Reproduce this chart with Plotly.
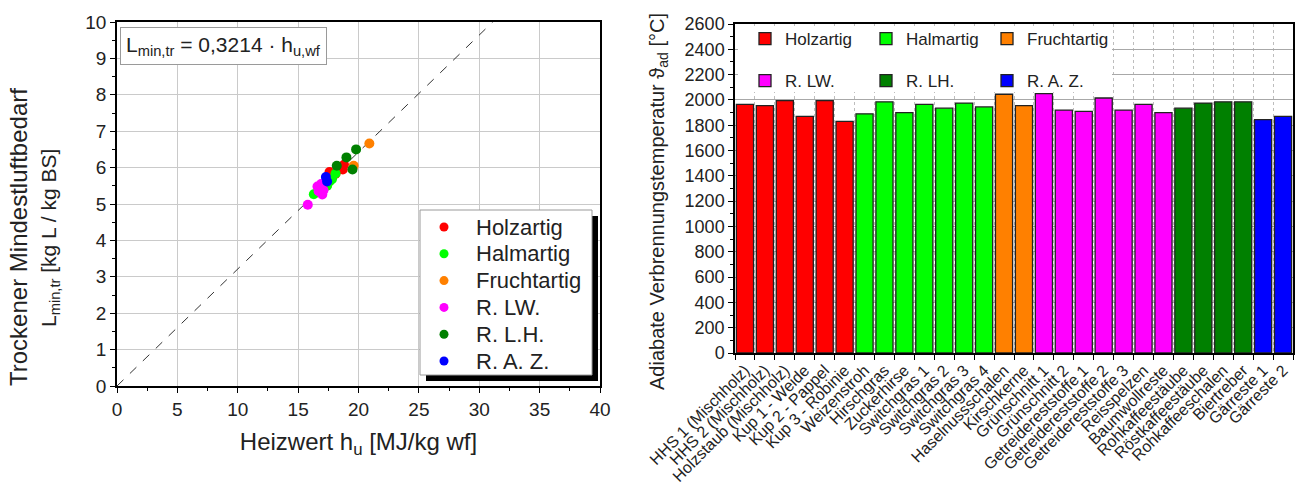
import plotly.graph_objects as go

W, H = 1298, 494

# ---------------- data: scatter (left) ----------------
groups_scatter = ["Holzartig", "Halmartig", "Fruchtartig", "R. LW.", "R. L.H.", "R. A. Z."]
holz_x = [17.6, 18.1, 18.5, 18.8, 18.7, 17.9]
holz_y = [5.88, 5.83, 5.97, 6.08, 5.95, 5.78]
halm_x = [16.3, 16.7, 17.2, 17.6, 17.8, 18.1, 17.4]
halm_y = [5.27, 5.40, 5.55, 5.62, 5.68, 5.84, 5.50]
frucht_x = [19.6, 20.9]
frucht_y = [6.05, 6.66]
rlw_x = [15.8, 16.7, 16.8, 16.9, 17.0, 17.1, 16.6]
rlw_y = [4.98, 5.35, 5.45, 5.55, 5.26, 5.38, 5.48]
rlh_x = [18.2, 19.0, 19.5, 19.8]
rlh_y = [6.05, 6.28, 5.95, 6.50]
raz_x = [17.3, 17.4]
raz_y = [5.74, 5.62]
fit_slope = 0.3214

# ---------------- data: bars (right) ----------------
holz_names = ["HHS 1 (Mischholz)", "HHS 2 (Mischholz)", "Holzstaub (Mischholz)",
              "Kup 1 - Weide", "Kup 2 - Pappel", "Kup 3 - Robinie"]
holz_temp = [1965, 1955, 1995, 1870, 1995, 1830]
halm_names = ["Weizenstroh", "Hirschgras", "Zuckerhirse", "Switchgras 1",
              "Switchgras 2", "Switchgras 3", "Switchgras 4"]
halm_temp = [1890, 1985, 1900, 1965, 1935, 1975, 1945]
frucht_names = ["Haselnussschalen", "Kirschkerne"]
frucht_temp = [2045, 1955]
rlw_names = ["Grünschnitt 1", "Grünschnitt 2", "Getreidereststoffe 1",
             "Getreidereststoffe 2", "Getreidereststoffe 3", "Reisspelzen", "Baumwollreste"]
rlw_temp = [2050, 1920, 1910, 2015, 1920, 1965, 1900]
rlh_names = ["Rohkaffeestäube", "Röstkaffeestäube", "Rohkaffeeschalen", "Biertreber"]
rlh_temp = [1935, 1975, 1985, 1985]
raz_names = ["Gärreste 1", "Gärreste 2"]
raz_temp = [1845, 1870]
bar_groups = ["Holzartig", "Halmartig", "Fruchtartig", "R. LW.", "R. LH.", "R. A. Z."]

colors = ["#ff0000", "#00ff00", "#ff8000", "#ff00ff", "#008000", "#0000ff"]
FONT = "Arial, 'Liberation Sans', sans-serif"
TXT = "#222222"

def px_x(p):
    return p / W

def px_y(p):
    return 1 - p / H

fig = go.Figure()

# ---- left scatter ----
sc_data = [(holz_x, holz_y), (halm_x, halm_y), (frucht_x, frucht_y),
           (rlw_x, rlw_y), (rlh_x, rlh_y), (raz_x, raz_y)]
x_end = 10 / fit_slope
fig.add_trace(go.Scatter(x=[0, x_end], y=[0, fit_slope * x_end], mode="lines",
                         line=dict(color="#333333", width=1, dash="dash"),
                         showlegend=False, xaxis="x", yaxis="y", hoverinfo="skip"))
for name, (xs, ys), c in zip(groups_scatter, sc_data, colors):
    fig.add_trace(go.Scatter(x=xs, y=ys, mode="markers", name=name, showlegend=False,
                             marker=dict(color=c, size=10, line=dict(width=0)),
                             xaxis="x", yaxis="y"))

# ---- right bars ----
bar_data = [(holz_names, holz_temp), (halm_names, halm_temp), (frucht_names, frucht_temp),
            (rlw_names, rlw_temp), (rlh_names, rlh_temp), (raz_names, raz_temp)]
all_names = [n for names, _ in bar_data for n in names]
for i, (name, (names, temps), c) in enumerate(zip(bar_groups, bar_data, colors)):
    fig.add_trace(go.Bar(x=names, y=temps, name=name,
                         marker=dict(color=c, line=dict(color="#222222", width=1.3)),
                         xaxis="x2", yaxis="y2", legend="legend2" if i < 3 else "legend3"))

axis_common = dict(showline=True, linecolor="black", linewidth=1.5, mirror=True,
                   ticks="outside", ticklen=5, tickwidth=1.2, tickcolor="black",
                   zeroline=False, automargin=False)

fig.update_layout(
    width=W, height=H, margin=dict(l=0, r=0, t=0, b=0, autoexpand=False),
    paper_bgcolor="white", plot_bgcolor="white",
    font=dict(family=FONT, color=TXT),
    barmode="group", bargap=0.14,
    xaxis=dict(domain=[px_x(117), px_x(600)], range=[0, 40], dtick=5,
               showgrid=True, gridcolor="#cacaca", gridwidth=1.2,
               minor=dict(ticks="outside", ticklen=3, dtick=2.5, tickcolor="black", showgrid=False),
               tickfont=dict(size=19),
               title=dict(text="Heizwert h<sub>u</sub> [MJ/kg wf]", font=dict(size=24), standoff=15),
               anchor="y", **axis_common),
    yaxis=dict(domain=[px_y(386), px_y(22)], range=[0, 10], dtick=1,
               showgrid=True, gridcolor="#cacaca", gridwidth=1.2,
               minor=dict(ticks="outside", ticklen=3, dtick=0.5, tickcolor="black", showgrid=False),
               tickfont=dict(size=19),
               anchor="x", **axis_common),
    xaxis2=dict(domain=[px_x(735), px_x(1293)], range=[-0.5, len(all_names) - 0.5],
                type="category", categoryorder="array", categoryarray=all_names,
                tickson="boundaries", showgrid=True, gridcolor="#bdbdbd", griddash="dot", gridwidth=1,
                tickangle=-45, tickfont=dict(size=16),
                anchor="y2", **axis_common),
    yaxis2=dict(domain=[px_y(353), px_y(24)], range=[0, 2600], dtick=200,
                showgrid=True, gridcolor="#a8a8a8", gridwidth=1,
                minor=dict(ticks="outside", ticklen=3, dtick=100, tickcolor="black", showgrid=False),
                tickfont=dict(size=18),
                anchor="x2", **axis_common),
    legend2=dict(x=px_x(745), y=px_y(21), xanchor="left", yanchor="top", orientation="h",
                 bgcolor="rgba(0,0,0,0)", borderwidth=0, font=dict(size=17),
                 entrywidth=76, entrywidthmode="pixels"),
    legend3=dict(x=px_x(745), y=px_y(63), xanchor="left", yanchor="top", orientation="h",
                 bgcolor="rgba(0,0,0,0)", borderwidth=0, font=dict(size=17),
                 entrywidth=76, entrywidthmode="pixels"),
    showlegend=True,
)

# y-axis titles (placed like in the reference, slightly below the plot centre)
fig.add_annotation(x=px_x(19), y=px_y(237), xref="paper", yref="paper",
                   xanchor="center", yanchor="middle", showarrow=False, textangle=-90,
                   text="Trockener Mindestluftbedarf", font=dict(size=24, color=TXT))
fig.add_annotation(x=px_x(50), y=px_y(238), xref="paper", yref="paper",
                   xanchor="center", yanchor="middle", showarrow=False, textangle=-90,
                   text="L<sub>min,tr</sub> [kg L / kg BS]", font=dict(size=21, color=TXT))
fig.add_annotation(x=px_x(658), y=px_y(202), xref="paper", yref="paper",
                   xanchor="center", yanchor="middle", showarrow=False, textangle=-90,
                   text="Adiabate Verbrennungstemperatur ϑ<sub>ad</sub> [°C]",
                   font=dict(size=20, color=TXT))

# annotation box with fit formula
fig.add_annotation(x=px_x(120), y=px_y(27), xref="paper", yref="paper",
                   xanchor="left", yanchor="top", showarrow=False,
                   text="L<sub>min,tr</sub> = 0,3214 · h<sub>u,wf</sub>",
                   font=dict(size=21, color=TXT), align="left",
                   bgcolor="white", bordercolor="#9a9a9a", borderwidth=1, borderpad=5)

# ---- left legend (box with shadow, dots, labels) ----
fig.add_shape(type="rect", xref="paper", yref="paper", layer="above",
              x0=px_x(426), x1=px_x(598), y0=px_y(381), y1=px_y(216),
              fillcolor="black", line=dict(width=0))
fig.add_shape(type="rect", xref="paper", yref="paper", layer="above",
              x0=px_x(420), x1=px_x(592), y0=px_y(375), y1=px_y(210),
              fillcolor="white", line=dict(color="#9a9a9a", width=1))
for i, (name, c) in enumerate(zip(groups_scatter, colors)):
    yc = 227 + i * 26.8
    fig.add_shape(type="circle", xref="paper", yref="paper", layer="above",
                  x0=px_x(444 - 4.5), x1=px_x(444 + 4.5), y0=px_y(yc + 4.5), y1=px_y(yc - 4.5),
                  fillcolor=c, line=dict(width=0))
    fig.add_annotation(x=px_x(474), y=px_y(yc), xref="paper", yref="paper",
                       xanchor="left", yanchor="middle", showarrow=False,
                       text=name, font=dict(size=22, color=TXT))

# white background behind bar legend (right)
fig.add_shape(type="rect", xref="paper", yref="paper", layer="above",
              x0=px_x(738), x1=px_x(1112), y0=px_y(92), y1=px_y(26),
              fillcolor="white", line=dict(width=0))

fig.write_html("out.html")
